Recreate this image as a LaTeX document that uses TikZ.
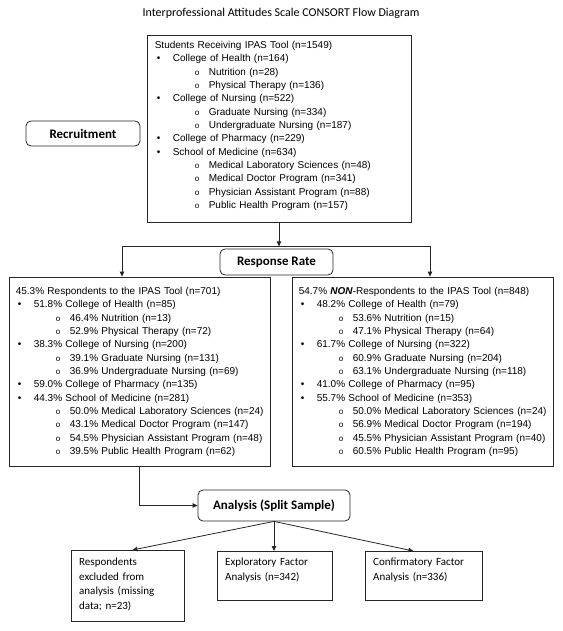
\documentclass[tikz,border=0pt]{standalone}
\usepackage{fontspec}
\setmainfont{Carlito}
\newfontfamily\arialfont{Liberation Sans}
\usetikzlibrary{arrows.meta,calc}

% list levels used inside the boxes
\newcommand{\lvone}[1]{\hspace*{2pt}\makebox[16pt][l]{•}#1}
\newcommand{\lvtwo}[1]{\hspace*{40pt}\makebox[14pt][l]{\fontsize{8}{8}\selectfont o}#1}

\begin{document}
\begin{tikzpicture}[x=1pt, y=-1pt,
  >={Triangle[length=5pt,width=4.5pt]},
  line/.style={draw=black!85, line width=0.8pt},
  listbox/.style={line, rectangle, inner sep=0pt},
  headbox/.style={line, rectangle, rounded corners=5pt, inner sep=0pt,
    font=\fontsize{13}{15}\selectfont\bfseries},
  listtext/.style={anchor=north west, inner sep=0pt, text width=250pt, align=left,
    font=\arialfont\fontsize{10}{13.35}\selectfont},
  smalltext/.style={anchor=north west, inner sep=0pt, text width=105pt, align=left,
    font=\fontsize{11}{14.7}\selectfont}]
  \useasboundingbox (0,0) rectangle (562,631);

  % Title
  \node[font=\fontsize{12}{14}\selectfont] (title) at (281,13)
    {Interprofessional Attitudes Scale CONSORT Flow Diagram};

  % Recruitment stage
  \node[listbox, minimum width=264pt, minimum height=187pt] (students) at (279,128.5) {};
  \node[listtext] (studentsList) at ($(students.north west)+(8,6.3)$) {%
    Students Receiving IPAS Tool (n=1549)\\
    \lvone{College of Health (n=164)}\\
    \lvtwo{Nutrition (n=28)}\\
    \lvtwo{Physical Therapy (n=136)}\\
    \lvone{College of Nursing (n=522)}\\
    \lvtwo{Graduate Nursing (n=334)}\\
    \lvtwo{Undergraduate Nursing (n=187)}\\
    \lvone{College of Pharmacy (n=229)}\\
    \lvone{School of Medicine (n=634)}\\
    \lvtwo{Medical Laboratory Sciences (n=48)}\\
    \lvtwo{Medical Doctor Program (n=341)}\\
    \lvtwo{Physician Assistant Program (n=88)}\\
    \lvtwo{Public Health Program (n=157)}};
  \node[headbox, minimum width=114pt, minimum height=25pt] (recruit) at (83,133.5) {Recruitment};

  % Response rate stage
  \node[headbox, minimum width=113pt, minimum height=26pt] (rate) at (276.5,262) {Response Rate};

  \node[listbox, minimum width=261pt, minimum height=189pt] (resp) at (139.5,371.5) {};
  \node[listtext] (respList) at ($(resp.north west)+(7,10.3)$) {%
    45.3\% Respondents to the IPAS Tool (n=701)\\
    \lvone{51.8\% College of Health (n=85)}\\
    \lvtwo{46.4\% Nutrition (n=13)}\\
    \lvtwo{52.9\% Physical Therapy (n=72)}\\
    \lvone{38.3\% College of Nursing (n=200)}\\
    \lvtwo{39.1\% Graduate Nursing (n=131)}\\
    \lvtwo{36.9\% Undergraduate Nursing (n=69)}\\
    \lvone{59.0\% College of Pharmacy (n=135)}\\
    \lvone{44.3\% School of Medicine (n=281)}\\
    \lvtwo{50.0\% Medical Laboratory Sciences (n=24)}\\
    \lvtwo{43.1\% Medical Doctor Program (n=147)}\\
    \lvtwo{54.5\% Physician Assistant Program (n=48)}\\
    \lvtwo{39.5\% Public Health Program (n=62)}};

  \node[listbox, minimum width=261pt, minimum height=189pt] (nonresp) at (422.5,371.5) {};
  \node[listtext] (nonrespList) at ($(nonresp.north west)+(7,10.3)$) {%
    54.7\% \textbf{\textit{NON}}-Respondents to the IPAS Tool (n=848)\\
    \lvone{48.2\% College of Health (n=79)}\\
    \lvtwo{53.6\% Nutrition (n=15)}\\
    \lvtwo{47.1\% Physical Therapy (n=64)}\\
    \lvone{61.7\% College of Nursing (n=322)}\\
    \lvtwo{60.9\% Graduate Nursing (n=204)}\\
    \lvtwo{63.1\% Undergraduate Nursing (n=118)}\\
    \lvone{41.0\% College of Pharmacy (n=95)}\\
    \lvone{55.7\% School of Medicine (n=353)}\\
    \lvtwo{50.0\% Medical Laboratory Sciences (n=24)}\\
    \lvtwo{56.9\% Medical Doctor Program (n=194)}\\
    \lvtwo{45.5\% Physician Assistant Program (n=40)}\\
    \lvtwo{60.5\% Public Health Program (n=95)}};

  % Analysis stage
  \node[headbox, minimum width=152pt, minimum height=31pt] (analysis) at (274,505.5) {Analysis (Split Sample)};

  \node[listbox, minimum width=113pt, minimum height=71pt, anchor=north west] (excluded) at (71,550) {};
  \node[smalltext] (excludedText) at ($(excluded.north west)+(8,7.6)$)
    {Respondents\\excluded from\\analysis (missing\\data; n=23)};
  \node[listbox, minimum width=115pt, minimum height=49pt, anchor=north west] (efa) at (217,551) {};
  \node[smalltext] (efaText) at ($(efa.north west)+(8,6.6)$)
    {Exploratory Factor\\Analysis (n=342)};
  \node[listbox, minimum width=117pt, minimum height=49pt, anchor=north west] (cfa) at (365,551) {};
  \node[smalltext] (cfaText) at ($(cfa.north west)+(8,6.6)$)
    {Confirmatory Factor\\Analysis (n=336)};

  % Connectors
  \coordinate (fork) at ($(students.south)+(0,24)$);
  \draw[line,->] (students.south) -- (fork);
  \draw[line,->] (fork) -| ($(resp.north)+(-17.5,0)$);
  \draw[line,->] (fork) -| ($(nonresp.north)+(7.5,0)$);
  \draw[line,->] (resp.south) |- (analysis.west);
  \draw[line,->] (analysis.south) -- ($(excluded.north)+(4.5,0)$);
  \draw[line,->] (analysis.south) -- (analysis.south |- efa.north);
  \draw[line,->] (analysis.south) -- ($(cfa.north)+(-10.5,0)$);
\end{tikzpicture}
\end{document}
